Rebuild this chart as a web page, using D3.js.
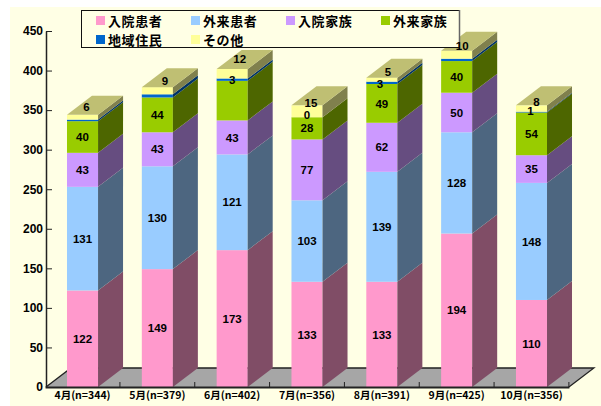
<!DOCTYPE html>
<html lang="ja">
<head>
<meta charset="utf-8">
<title>月別相談件数</title>
<script src="https://d3js.org/d3.v7.min.js"></script>
<style>
    html, body { margin: 0; padding: 0; background: #fff; }
    svg { display: block; }
    text { font-family: "Liberation Sans", Arial, sans-serif; font-weight: bold; fill: #000; }
    .jp { font-family: "Noto Sans CJK JP", sans-serif; }
</style>
</head>
<body>
<script>
    // Data
    const months = ["4月(n=344)", "5月(n=379)", "6月(n=402)", "7月(n=356)", "8月(n=391)", "9月(n=425)", "10月(n=356)"];
    const seriesNames = ["入院患者", "外来患者", "入院家族", "外来家族", "地域住民", "その他"];
    const inpatients = [122, 149, 173, 133, 133, 194, 110];
    const outpatients = [131, 130, 121, 103, 139, 128, 148];
    const inFamily = [43, 43, 43, 77, 62, 50, 35];
    const outFamily = [40, 44, 50, 28, 49, 40, 54];
    const community = [2, 4, 3, 0, 3, 3, 1];
    const others = [6, 9, 12, 15, 5, 10, 8];
    const yTicks = [0, 50, 100, 150, 200, 250, 300, 350, 400, 450];

    const seriesValues = [inpatients, outpatients, inFamily, outFamily, community, others];
    const frontColors = ["#ff99cc", "#99ccff", "#cc99ff", "#99cc00", "#0066cc", "#ffff99"];
    const sideColors = ["#804d66", "#4d6680", "#664d80", "#4d6600", "#003366", "#80804d"];
    const topColor = "#bfbf73";

    // labels the original leaves out ("series-month"), and ones moved by hand: [dx, dy]
    const hiddenLabels = ["4-0", "4-1", "3-2", "4-5"];
    const labelShift = {
        "5-0": [4, -10], "5-1": [7.5, -10], "5-2": [7.5, -15], "5-3": [4, -8], "5-4": [6, -8], "5-5": [5.5, -9], "5-6": [5, -7],
        "4-3": [0, -2], "4-4": [-2, 1], "4-6": [-1, -1]
    };

    const width = 601, height = 406;
    const depthX = 25, depthY = -19;

    const svg = d3.select("body").append("svg").attr("width", width).attr("height", height);

    // cream chart area
    svg.append("rect").attr("x", 10).attr("y", 7).attr("width", width - 10).attr("height", height - 7).attr("fill", "#ffffe5");

    const x = d3.scaleBand().domain(months).range([45.1, 568.9]).paddingInner(0.585).paddingOuter(0.2925);
    const y = d3.scaleLinear().domain([0, 450]).range([387, 31]);
    const poly = pts => pts.map(p => p.join(",")).join(" ");

    // floor
    svg.append("polygon")
        .attr("points", poly([[46, y(0)], [46 + depthX, y(0) + depthY], [568.9 + depthX, y(0) + depthY], [568.9, y(0)]]))
        .attr("fill", "#a6a6a6");
    svg.append("path")
        .attr("d", `M46,${y(0)}L${46 + depthX},${y(0) + depthY}H${568.9 + depthX}L568.9,${y(0)}`)
        .attr("fill", "none").attr("stroke", "#222").attr("stroke-width", 1.3);

    // stacked bars with side and top faces
    months.forEach((m, i) => {
        const x0 = x(m), x1 = x0 + x.bandwidth();
        let sum = 0;
        const g = svg.append("g");
        seriesValues.forEach((vals, s) => {
            const v = vals[i];
            const yb = y(sum), yt = y(sum + v);
            sum += v;
            if (v === 0) return;
            g.append("rect").attr("x", x0).attr("y", yt).attr("width", x1 - x0).attr("height", yb - yt).attr("fill", frontColors[s]);
            g.append("polygon")
                .attr("points", poly([[x1, yb], [x1 + depthX, yb + depthY], [x1 + depthX, yt + depthY], [x1, yt]]))
                .attr("fill", sideColors[s]);
        });
        g.append("polygon")
            .attr("points", poly([[x0, y(sum)], [x0 + depthX, y(sum) + depthY], [x1 + depthX, y(sum) + depthY], [x1, y(sum)]]))
            .attr("fill", topColor);
    });

    // axes
    const xAxis = svg.append("g").attr("transform", `translate(0,${y(0)})`)
        .call(d3.axisBottom(x).tickSize(0).tickPadding(5));
    xAxis.select(".domain").attr("stroke", "#222").attr("stroke-width", 2);
    xAxis.selectAll("text").attr("class", "jp").style("font-size", "10.5px").attr("font-family", null);
    const xEdges = months.map(m => x(m) - x.step() * x.paddingOuter() + x.step());
    svg.append("g").selectAll("line").data(xEdges).join("line")
        .attr("x1", d => d).attr("x2", d => d).attr("y1", y(0)).attr("y2", y(0) - 5)
        .attr("stroke", "#222");

    // y ticks point inward, to the right of the axis line
    const yAxis = svg.append("g").attr("transform", "translate(46,0)")
        .call(d3.axisLeft(y).tickValues(yTicks).tickSizeInner(-6).tickSizeOuter(0).tickPadding(3).tickFormat(d3.format("d")));
    yAxis.select(".domain").attr("stroke", "#222").attr("stroke-width", 1.5);
    yAxis.selectAll(".tick line").attr("stroke", "#222");
    yAxis.selectAll("text").style("font-size", "12px");

    // legend sits over the bars, value labels go over the legend
    const legend = svg.append("g");
    legend.append("rect").attr("x", 81.5).attr("y", 10.5).attr("width", 378).attr("height", 37)
        .attr("fill", "#ffffe5").attr("stroke", "#111");
    legend.append("line").attr("x1", 459.5).attr("x2", 459.5).attr("y1", 10).attr("y2", 48)
        .attr("stroke", "#666").attr("stroke-width", 1.5);
    const legendX = d3.scaleOrdinal().domain([0, 1, 2, 3]).range([96, 191, 286, 381]);
    seriesNames.forEach((name, s) => {
        const row = s < 4 ? 0 : 1;
        const lx = legendX(s % 4);
        const ly = 21 + row * 19;
        legend.append("rect").attr("x", lx).attr("y", ly - 5).attr("width", 9).attr("height", 9).attr("fill", frontColors[s]);
        legend.append("text").attr("class", "jp").attr("x", lx + 12).attr("y", ly).attr("dy", "0.36em")
            .style("font-size", "13px").style("letter-spacing", "0.6px").text(name);
    });

    // value labels
    months.forEach((m, i) => {
        let sum = 0;
        seriesValues.forEach((vals, s) => {
            const v = vals[i];
            const mid = sum + v / 2;
            sum += v;
            const key = s + "-" + i;
            if (hiddenLabels.includes(key)) return;
            const shift = labelShift[key] || [0, 0];
            svg.append("text")
                .attr("x", x(m) + x.bandwidth() / 2 + shift[0])
                .attr("y", y(mid) + shift[1])
                .attr("dy", "0.36em")
                .attr("text-anchor", "middle")
                .style("font-size", "11.5px")
                .text(v);
        });
    });
</script>
</body>
</html>
